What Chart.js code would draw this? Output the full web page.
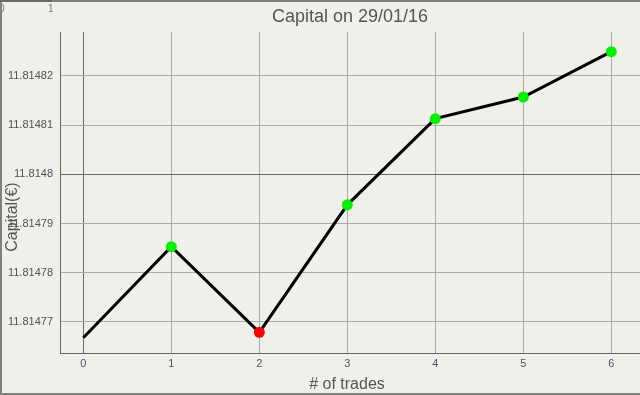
<!DOCTYPE html>
<html>
<head>
<meta charset="utf-8">
<script src="https://cdn.jsdelivr.net/npm/chart.js@4.4.0/dist/chart.umd.min.js"></script>
<style>
  html, body { margin: 0; padding: 0; background: #f0f0eb; }
  #wrap { width: 640px; height: 395px; }
</style>
</head>
<body>
<div id="wrap"><canvas id="capital-chart" width="640" height="395"></canvas></div>
<script>
// trades on the x axis, capital on the y axis
const trades = [0, 1, 2, 3, 4, 5, 6];
const capital = [11.8147668, 11.8147853, 11.8147679, 11.8147938, 11.8148113, 11.8148157, 11.8148249];
const pointColors = [null, '#00f000', '#ff0000', '#00f000', '#00f000', '#00f000', '#00f000'];
const xTicks = [0, 1, 2, 3, 4, 5, 6];
const yTicks = [11.81477, 11.81478, 11.81479, 11.8148, 11.81481, 11.81482];

const chartTitle = 'Capital on 29/01/16';
const xTitle = '# of trades';
const yTitle = 'Capital(€)';

const FONT = "'Liberation Sans', Arial, sans-serif";
const gridLight = '#acaca6';
const gridDark = '#6a6a6a';

// titles, frame and the little 0..1 strip in the corner
const decorations = {
    id: 'decorations',
    afterDraw(chart) {
        const ctx = chart.ctx;
        const area = chart.chartArea;
        const cx = (area.left + area.right) / 2;
        ctx.save();
        ctx.fillStyle = '#555555';
        ctx.textAlign = 'center';
        ctx.textBaseline = 'middle';

        ctx.font = '18px ' + FONT;
        ctx.fillText(chartTitle, cx, 17);

        ctx.font = '16px ' + FONT;
        ctx.fillText(xTitle, cx - 3, 385);

        ctx.save();
        ctx.translate(13, 217);
        ctx.rotate(-Math.PI / 2);
        ctx.fillText(yTitle, 0, 0);
        ctx.restore();

        ctx.font = '10px ' + FONT;
        ctx.fillStyle = '#777777';
        ctx.textAlign = 'left';
        ctx.fillText('0', -1, 9);
        ctx.fillText('1', 48, 9);

        // frame
        ctx.fillStyle = '#808080';
        ctx.fillRect(0, 0, 640, 2);
        ctx.fillRect(0, 0, 2, 395);
        ctx.fillRect(0, 393, 640, 2);
        ctx.fillStyle = '#6a6a6a';
        ctx.fillRect(0, 0, 52, 2);
        ctx.restore();
    }
};

const ctx = document.getElementById('capital-chart').getContext('2d');
new Chart(ctx, {
    type: 'line',
    data: {
        datasets: [{
            data: trades.map((t, i) => ({ x: t, y: capital[i] })),
            borderColor: '#000000',
            borderWidth: 3,
            fill: false,
            tension: 0,
            pointRadius: pointColors.map(c => c ? 5.5 : 0),
            pointBackgroundColor: pointColors.map(c => c || '#000000'),
            pointBorderColor: pointColors.map(c => c || '#000000'),
            pointBorderWidth: 0
        }]
    },
    options: {
        responsive: false,
        animation: false,
        events: [],
        layout: { autoPadding: false, padding: { top: 32, right: 0, bottom: 0, left: 0 } },
        plugins: {
            legend: { display: false },
            title: { display: false },
            tooltip: { enabled: false }
        },
        scales: {
            x: {
                type: 'linear',
                min: -0.265,
                max: 6.326,
                afterBuildTicks: s => { s.ticks = xTicks.map(v => ({ value: v })); },
                afterFit: s => { s.height = 42; s.paddingLeft = 0; s.paddingRight = 0; },
                grid: {
                    drawTicks: false,
                    lineWidth: 1,
                    color: c => (c.tick && c.tick.value === 0) ? gridDark : gridLight
                },
                border: { display: true, color: '#666666', width: 1 },
                ticks: {
                    padding: 4,
                    color: '#505060',
                    font: { family: FONT, size: 11 }
                }
            },
            y: {
                type: 'linear',
                min: 11.8147637,
                max: 11.8148289,
                afterBuildTicks: s => { s.ticks = yTicks.map(v => ({ value: v })); },
                afterFit: s => { s.width = 60; s.paddingTop = 0; s.paddingBottom = 0; },
                grid: {
                    drawTicks: false,
                    lineWidth: 1,
                    color: c => (c.tick && Math.abs(c.tick.value - 11.8148) < 1e-9) ? gridDark : gridLight
                },
                border: { display: true, color: '#666666', width: 1 },
                ticks: {
                    padding: 7,
                    color: '#505060',
                    font: { family: FONT, size: 11 },
                    callback: v => parseFloat(Number(v).toFixed(5)).toString()
                }
            }
        }
    },
    plugins: [decorations]
});
</script>
</body>
</html>
